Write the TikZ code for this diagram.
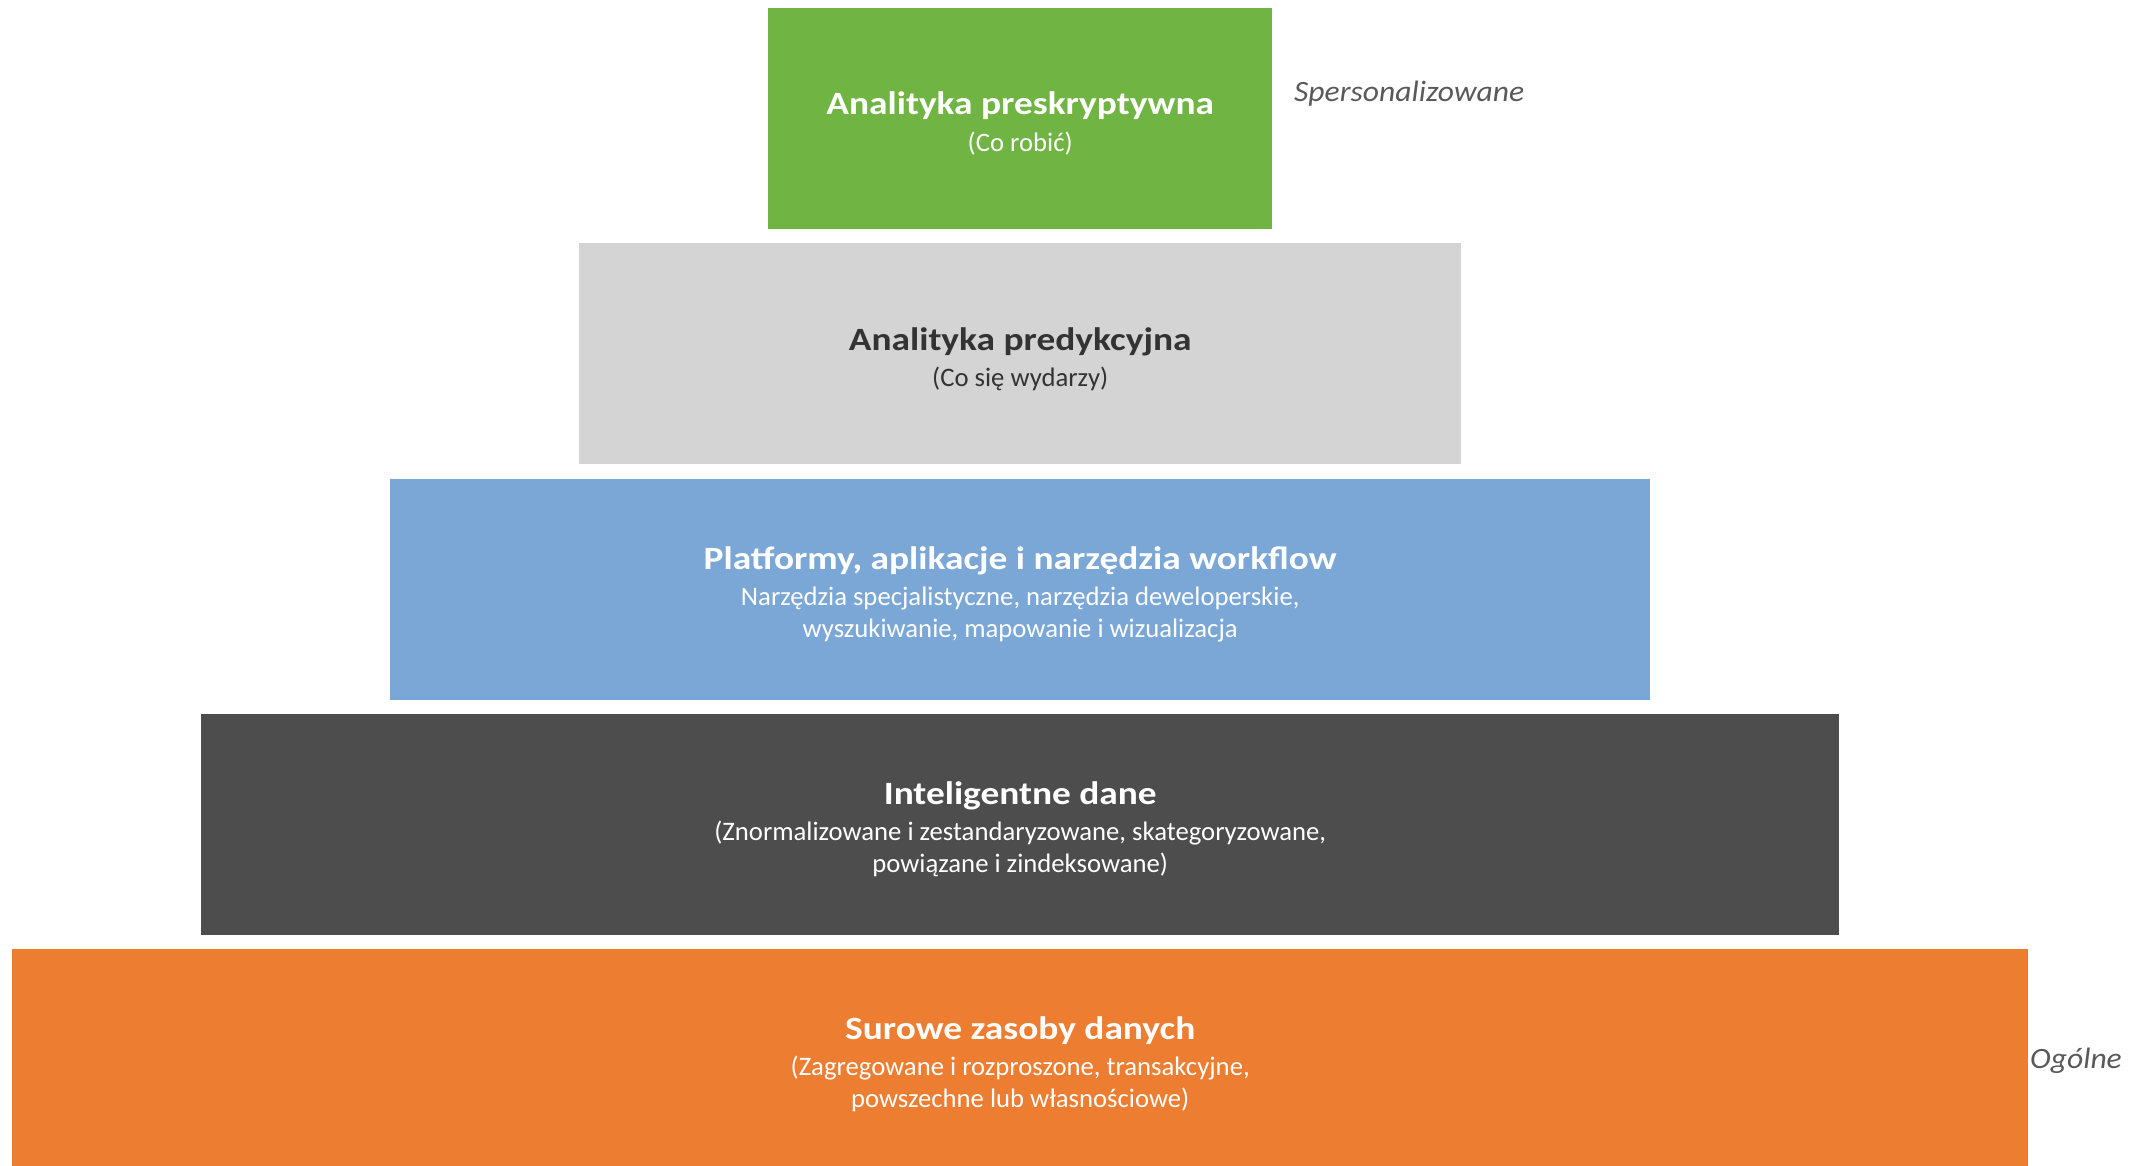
\documentclass[tikz,border=0pt]{standalone}
\usepackage{fontspec}
\setmainfont{Carlito}
\newfontfamily\ttlfont[FakeStretch=1.15]{Carlito}
\newfontfamily\sidefont[FakeStretch=1.07]{Carlito}
\definecolor{cgreen}{HTML}{70B443}
\definecolor{cgray}{HTML}{D4D4D4}
\definecolor{cblue}{HTML}{7BA7D7}
\definecolor{cdark}{HTML}{4D4D4D}
\definecolor{corange}{HTML}{ED7D31}
\definecolor{ctext}{HTML}{333333}
\definecolor{cside}{HTML}{595959}
\tikzset{
  layer/.style={draw=none, inner sep=0pt, minimum height=221pt, anchor=north west},
  ttl/.style={anchor=base, inner sep=0pt, font=\ttlfont\fontsize{32.5}{39}\selectfont\bfseries},
  sub/.style={anchor=base, inner sep=0pt, font=\fontsize{26.7}{32}\selectfont},
  side/.style={anchor=base west, inner sep=0pt, text=cside, font=\sidefont\fontsize{29.5}{34}\selectfont\itshape}
}
\begin{document}
\begin{tikzpicture}[x=1pt, y=-1pt]
\useasboundingbox (0,0) rectangle (2147,1166);
% layers
\node[layer, fill=cgreen, minimum width=504pt] (g) at (768,8) {};
\node[layer, fill=cgray, minimum width=882pt] (p) at (579,243) {};
\node[layer, fill=cblue, minimum width=1260pt] (b) at (390,479) {};
\node[layer, fill=cdark, minimum width=1638pt] (d) at (201,714) {};
\node[layer, fill=corange, minimum width=2016pt, minimum height=217pt] (o) at (12,949) {};
% green
\node[ttl, text=white] (g1) at ([yshift=-107pt]g.north) {Analityka preskryptywna};
\node[sub, text=white] (g2) at ([yshift=-144pt]g.north) {(Co robić)};
% gray
\node[ttl, text=ctext] (p1) at ([yshift=-107pt]p.north) {Analityka predykcyjna};
\node[sub, text=ctext] (p2) at ([yshift=-143pt]p.north) {(Co się wydarzy)};
% blue
\node[ttl, text=white] (b1) at ([yshift=-90pt]b.north) {Platformy, aplikacje i narzędzia workflow};
\node[sub, text=white] (b2) at ([yshift=-126pt]b.north) {Narzędzia specjalistyczne, narzędzia deweloperskie,};
\node[sub, text=white] (b3) at ([yshift=-158pt]b.north) {wyszukiwanie, mapowanie i wizualizacja};
% dark
\node[ttl, text=white] (d1) at ([yshift=-90pt]d.north) {Inteligentne dane};
\node[sub, text=white] (d2) at ([yshift=-126pt]d.north) {(Znormalizowane i zestandaryzowane, skategoryzowane,};
\node[sub, text=white] (d3) at ([yshift=-158pt]d.north) {powiązane i zindeksowane)};
% orange
\node[ttl, text=white] (o1) at ([yshift=-90pt]o.north) {Surowe zasoby danych};
\node[sub, text=white] (o2) at ([yshift=-126pt]o.north) {(Zagregowane i rozproszone, transakcyjne,};
\node[sub, text=white] (o3) at ([yshift=-158pt]o.north) {powszechne lub własnościowe)};
% side labels
\node[side] (s1) at (1294,102) {Spersonalizowane};
\node[side] (s2) at (2030,1068) {Ogólne};
\end{tikzpicture}
\end{document}
